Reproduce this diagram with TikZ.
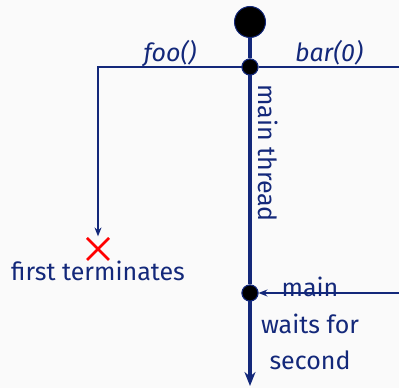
\documentclass[tikz,border=0pt]{standalone}
\usepackage{fontspec}
\setmainfont{Fira Sans}
\usetikzlibrary{arrows.meta}
\definecolor{navy}{HTML}{13287A}
\definecolor{bg}{HTML}{FAFAFA}
\begin{document}
\begin{tikzpicture}[x=1pt,y=1pt,
  lbl/.style={text=navy,font=\fontsize{25}{30}\selectfont,inner sep=0pt},
  thin/.style={draw=navy,line width=1.3pt},
  thick/.style={draw=navy,line width=3.2pt},
  dot/.style={circle,fill=black,draw=navy,line width=1pt,minimum size=16pt,inner sep=0pt},
  bigdot/.style={circle,fill=black,draw=navy,line width=1pt,minimum size=31pt,inner sep=0pt}]
\fill[bg] (0,0) rectangle (399,388);
\useasboundingbox (0,0) rectangle (399,388);
\node[bigdot] (start) at (250,366) {};
\node[dot] (fork) at (250,321) {};
\node[dot] (join) at (250,95) {};
\coordinate (end) at (250,2);
\coordinate (left) at (98,321);
\coordinate (right) at (399,321);
\coordinate (jr) at (399,95);
\node[inner sep=0pt] (x) at (98,139) {\tikz\draw[red,line width=2.8pt](0,0)--(22pt,22pt)(0,22pt)--(22pt,0);};
\node[lbl,anchor=base] (ft) at (98,107) {first terminates};
\draw[thin] (fork) -- (right);
\draw[thin,-{Stealth[length=9pt,width=7pt]}] (fork) -- (left) -- (x.north);
\draw[thin,-{Stealth[length=9pt,width=7pt]}] (jr) -- (join);
\draw[thick,-{Stealth[length=14pt,width=11pt]}] (start) -- (fork) -- (join) -- (end);
\node[dot] at (fork) {};
\node[dot] at (join) {};
\node[lbl,anchor=base,font=\fontsize{25}{30}\selectfont\itshape] (foo) at (170,326) {foo()};
\node[lbl,anchor=base,font=\fontsize{25}{30}\selectfont\itshape] (bar) at (329,326) {bar(0)};
\node[lbl,rotate=-90,anchor=south] (mt) at (258,235) {main thread};
\node[lbl,anchor=base] (m) at (310,91) {main};
\node[lbl,anchor=base] (w) at (310,54) {waits for};
\node[lbl,anchor=base] (s) at (310,18) {second};
\end{tikzpicture}
\end{document}
